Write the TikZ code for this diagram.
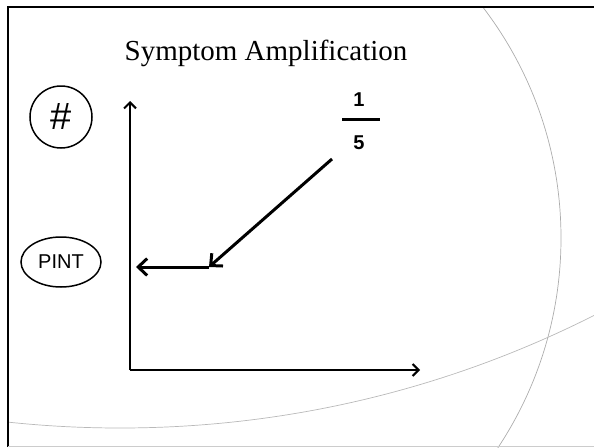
\documentclass[tikz,border=0pt]{standalone}
\usepackage{fontspec}
\setmainfont{Liberation Serif}
\newfontfamily\arialfont{Liberation Sans}
\usetikzlibrary{shapes.geometric,arrows.meta}

\begin{document}
\begin{tikzpicture}[x=1pt,y=-1pt]
\tikzset{
	axis/.style={line width=2pt, -{Straight Barb[length=6pt,width=12pt,line width=2pt]}},
	pointer/.style={line width=3pt, -{Straight Barb[length=9pt,width=17pt,line width=3pt]}},
	swoosh/.style={line width=0.7pt, draw=gray!65},
	badge/.style={draw, line width=1.5pt, inner sep=0pt, font=\arialfont\fontsize{20}{20}\selectfont},
	digit/.style={font=\arialfont\bfseries\fontsize{20}{20}\selectfont, inner sep=0pt}
}
\useasboundingbox (0,0) rectangle (594,447);

% background swooshes
\begin{scope}
\clip (8,7) rectangle (594,447);
\draw[swoosh] (181,238) circle[radius=380];
\draw[swoosh, draw=gray!55] (120,-624) circle[radius=1052];
\end{scope}

% slide frame
\draw[line width=2.8pt] (8,447) -- (8,7) -- (594,7);
\draw[draw=gray!40, line width=0.8pt] (8,446) -- (594,446);

\node[anchor=base, font=\fontsize{29}{31}\selectfont] (TITLE) at (266,60) {Symptom Amplification};
\node[badge, circle, minimum size=62pt, font=\arialfont\fontsize{38}{38}\selectfont] (HASH) at (61,117) {\#};
\node[badge, ellipse, minimum width=80pt, minimum height=50pt] (PINT) at (61,262) {PINT};

% axes
\coordinate (O) at (130,370);
\coordinate (YTIP) at (130,101);
\coordinate (XTIP) at (420,370);
\draw[axis] (O) -- (YTIP);
\draw[axis] (O) -- (XTIP);

% fraction
\node[digit] (ONE) at (359,100) {1};
\node[digit] (FIVE) at (359,143) {5};
\draw[line width=3pt] (342,119) -- (380,119);

\coordinate (START) at (332,159);
\coordinate (BEND) at (209,267);
\coordinate (END) at (136,267);
\draw[pointer] (START) -- (BEND);
\draw[pointer] (BEND) -- (END);
\end{tikzpicture}
\end{document}
